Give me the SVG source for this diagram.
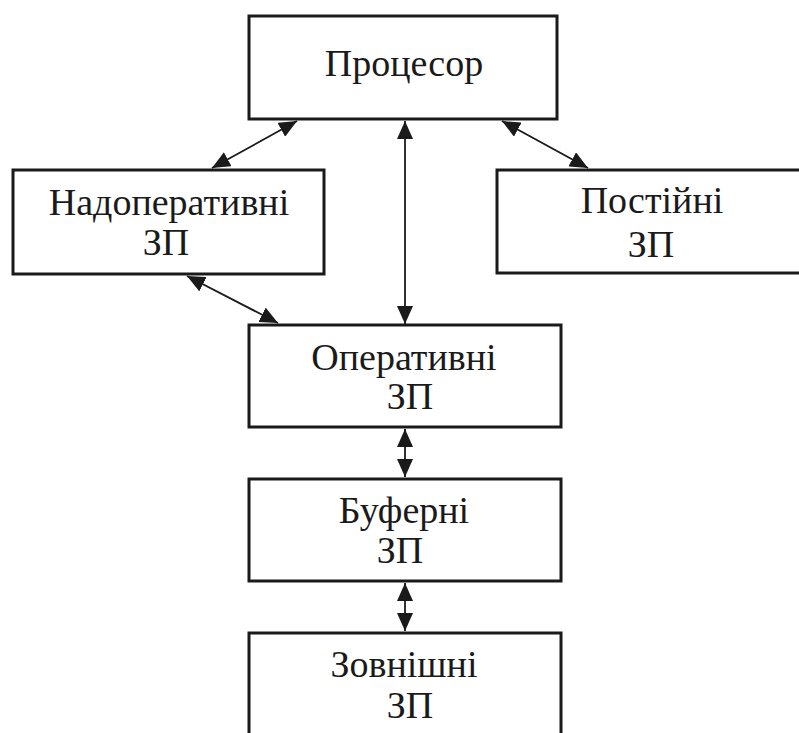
<svg xmlns="http://www.w3.org/2000/svg" width="799" height="733" viewBox="0 0 799 733">
  <style>
    .box { fill: #ffffff; stroke: #1a1a1a; stroke-width: 3; }
    text { font-family: 'Liberation Serif', 'DejaVu Serif', serif; font-size: 38px; fill: #1a1a1a; text-anchor: middle; }
    .link { stroke: #1a1a1a; stroke-width: 1.8; fill: none; marker-start: url(#head); marker-end: url(#head); }
  </style>
  <defs>
    <marker id="head" viewBox="0 0 18 16" refX="18" refY="8" markerWidth="18" markerHeight="16" markerUnits="userSpaceOnUse" orient="auto-start-reverse">
      <path d="M0,0 L18,8 L0,16 Z" fill="#1a1a1a"/>
    </marker>
  </defs>
  <rect width="799" height="733" fill="#ffffff"/>

  <g id="connectors">
    <line class="link" x1="212" y1="168" x2="297" y2="121"/>
    <line class="link" x1="502" y1="121" x2="588" y2="168"/>
    <line class="link" x1="405" y1="121" x2="405" y2="324"/>
    <line class="link" x1="187" y1="276" x2="278" y2="323"/>
    <line class="link" x1="405" y1="429" x2="405" y2="477"/>
    <line class="link" x1="405" y1="583" x2="405" y2="631"/>
  </g>

  <g id="processor">
    <rect class="box" x="249" y="16" width="308" height="103"/>
    <text x="404" y="76" font-family="Liberation Serif, serif">Процесор</text>
  </g>

  <g id="superoperative">
    <rect class="box" x="13" y="170" width="311" height="104"/>
    <text x="169" y="215" font-family="Liberation Serif, serif">Надоперативні</text>
    <text x="166" y="255" font-family="Liberation Serif, serif">ЗП</text>
  </g>

  <g id="permanent">
    <rect class="box" x="497" y="170" width="320" height="103"/>
    <text x="652" y="213" font-family="Liberation Serif, serif">Постійні</text>
    <text x="651" y="257" font-family="Liberation Serif, serif">ЗП</text>
  </g>

  <g id="operative">
    <rect class="box" x="249" y="325" width="312" height="102"/>
    <text x="404" y="370" font-family="Liberation Serif, serif">Оперативні</text>
    <text x="410" y="409" font-family="Liberation Serif, serif">ЗП</text>
  </g>

  <g id="buffer">
    <rect class="box" x="249" y="479" width="312" height="102"/>
    <text x="404" y="523" font-family="Liberation Serif, serif">Буферні</text>
    <text x="400" y="563" font-family="Liberation Serif, serif">ЗП</text>
  </g>

  <g id="external">
    <rect class="box" x="249" y="633" width="312" height="120"/>
    <text x="404" y="677" font-family="Liberation Serif, serif">Зовнішні</text>
    <text x="410" y="718" font-family="Liberation Serif, serif">ЗП</text>
  </g>
</svg>
